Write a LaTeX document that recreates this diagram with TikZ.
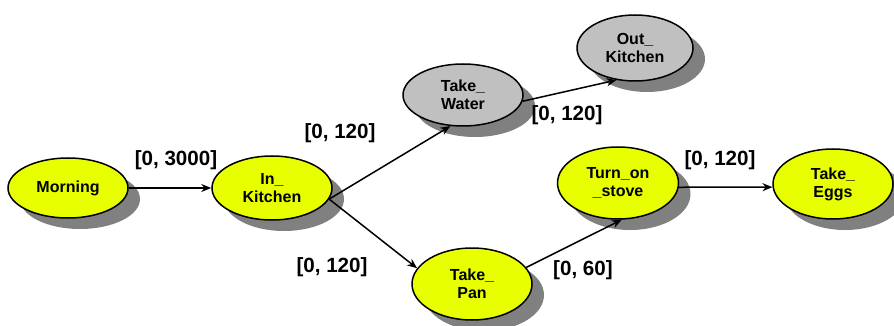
\documentclass[tikz,border=0pt]{standalone}
\usepackage{fontspec}
\setmainfont{Liberation Sans}
\usepackage{xcolor}
\usepackage{tikz}
\usetikzlibrary{shapes,arrows.meta,positioning,shadows}
\definecolor{nodeyellow}{HTML}{E8FF00}
\definecolor{nodegray}{HTML}{C0C0C0}
\definecolor{shadowgray}{HTML}{808080}

\begin{document}
\begin{tikzpicture}[x=0.5pt,y=-0.5pt,
        state/.style={ellipse, draw, line width=0.75pt, inner sep=0pt,
            minimum width=60pt, minimum height=32pt, align=center,
            font=\fontsize{8}{9}\selectfont\bfseries,
            drop shadow={shadow xshift=6pt, shadow yshift=-5.5pt, opacity=1, fill=shadowgray}},
        ystate/.style={state, fill=nodeyellow},
        gstate/.style={state, fill=nodegray},
        lbl/.style={font=\fontsize{10.3}{12}\selectfont\bfseries},
        arr/.style={-{Stealth[length=5pt,width=4pt]}, line width=0.75pt}]
        \useasboundingbox (0,0) rectangle (894,326);

        % States
        \node[ystate, minimum height=30pt] (morning) at (68,188) {Morning};
        \node[ystate] (inkitchen) at (272,188) {In\_\\Kitchen};
        \node[gstate, minimum height=31pt] (takewater) at (463,95) {Take\_\\Water};
        \node[gstate, minimum width=58pt, minimum height=33pt] (outkitchen) at (635,48) {Out\_\\Kitchen};
        \node[ystate, minimum height=36pt] (takepan) at (472,284) {Take\_\\Pan};
        \node[ystate, minimum width=60.5pt, minimum height=36pt] (turnon) at (618,183) {Turn\_on\\\_stove};
        \node[ystate, minimum height=35pt] (takeeggs) at (833,184) {Take\_\\Eggs};

        % Transitions
        \draw[arr] (morning) -- (inkitchen);
        \draw[arr] (inkitchen.-11) -- (takewater.248);
        \draw[arr] (inkitchen.-11) -- (takepan.164);
        \draw[arr] (takewater.-6) -- (outkitchen.240);
        \draw[arr] (takepan.17) -- (turnon.-84);
        \draw[arr] (turnon.-4) -- (takeeggs.183);

        % Time windows
        \node[lbl] (w1) at (176,160) {[0, 3000]};
        \node[lbl] (w2) at (340,133) {[0, 120]};
        \node[lbl] (w3) at (332,267) {[0, 120]};
        \node[lbl] (w4) at (567,115) {[0, 120]};
        \node[lbl] (w5) at (583,270) {[0, 60]};
        \node[lbl] (w6) at (720,160) {[0, 120]};
    \end{tikzpicture}
\end{document}
